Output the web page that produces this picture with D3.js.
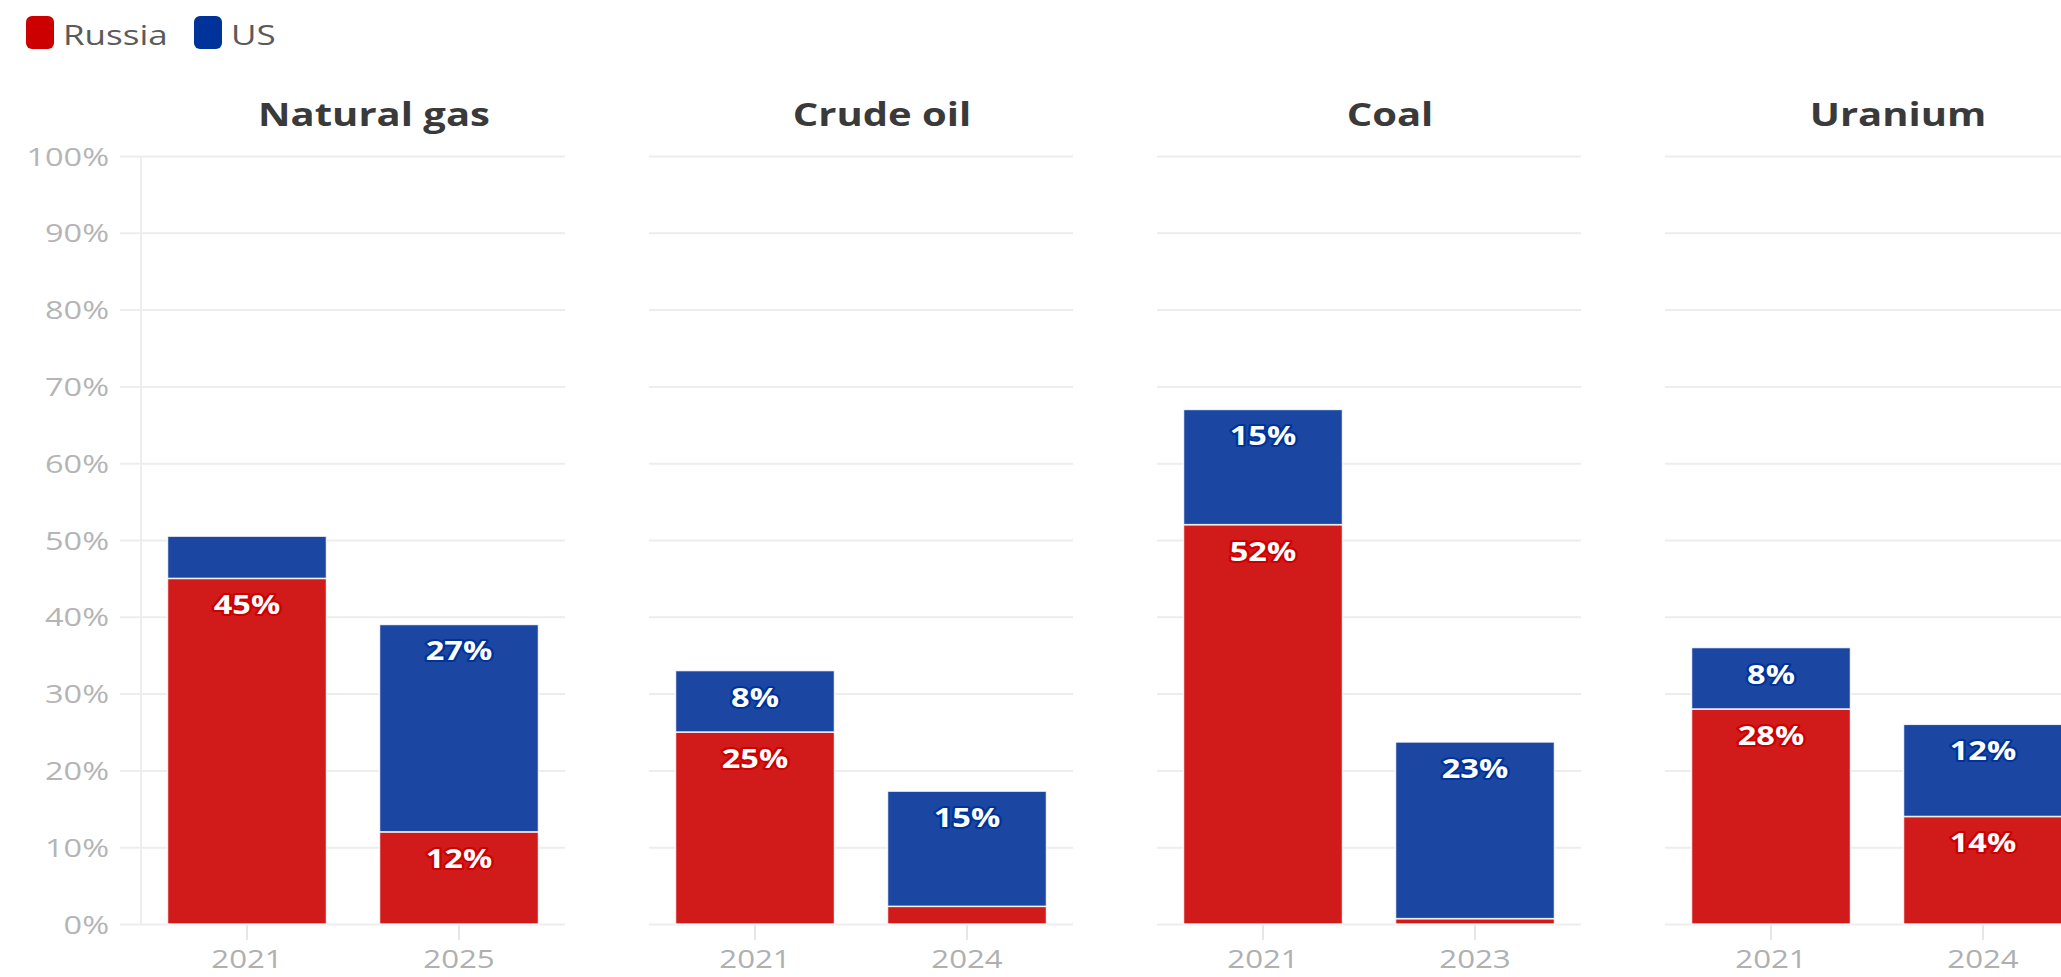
<!DOCTYPE html>
<html>
<head>
<meta charset="utf-8">
<script src="https://cdn.jsdelivr.net/npm/d3@7"></script>
<style>
  html, body { margin: 0; padding: 0; background: #fff; }
  svg { display: block; }
  text { font-family: "Open Sans", "Noto Sans", sans-serif; }
</style>
</head>
<body>
<svg id="chart" width="2061" height="977"></svg>
<script>
// Share of EU imports from Russia and the US, by commodity
const commodities = ["Natural gas", "Crude oil", "Coal", "Uranium"];
const periods = [["2021", "2025"], ["2021", "2024"], ["2021", "2023"], ["2021", "2024"]];
const russiaShare = [[45, 12], [25, 2.3], [52, 0.7], [28, 14]];
const usShare = [[5.5, 27], [8, 15], [15, 23], [8, 12]];
const seriesNames = ["Russia", "US"];
const yTicks = [0, 10, 20, 30, 40, 50, 60, 70, 80, 90, 100];

const legendColors = { Russia: "#cc0000", US: "#003399" };
const barColors = { Russia: "#d11a1a", US: "#1b47a2" };

const W = 2061, H = 977;
const plotTop = 156, plotBottom = 924;
const plotW = 424, panelStep = 508, firstPanelX = 141;
const STRETCH = 1.25;           // horizontal stretch of glyphs
const gridColor = "#ededed";

const svg = d3.select("#chart");

// helper: text drawn with a horizontal glyph stretch
function stretchText(sel, x, y) {
  return sel.attr("x", 0).attr("y", 0)
    .attr("transform", `translate(${x},${y}) scale(${STRETCH},1)`);
}

const y = d3.scaleLinear().domain([0, 100]).range([plotBottom, plotTop]);
const panelScale = d3.scaleBand()
  .domain(commodities)
  .range([firstPanelX, firstPanelX + panelStep * commodities.length]);

// legend
const legend = svg.append("g");
const legendX = [26, 194];
seriesNames.forEach((name, i) => {
  legend.append("rect")
    .attr("x", legendX[i]).attr("y", 16)
    .attr("width", 28).attr("height", 33).attr("rx", 6)
    .attr("fill", legendColors[name]);
  stretchText(legend.append("text"), legendX[i] + 37, 45)
    .attr("font-size", 28).attr("fill", "#5a5a5a")
    .text(name);
});

commodities.forEach((commodity, ci) => {
  const g = svg.append("g")
    .attr("transform", `translate(${panelScale(commodity)},0)`);

  const x = d3.scaleBand()
    .domain(periods[ci])
    .range([0, plotW])
    .paddingInner(0.25)
    .paddingOuter(0.125);

  // title
  stretchText(g.append("text"), plotW / 2 + 21, 126)
    .attr("text-anchor", "middle")
    .attr("font-size", 32).attr("font-weight", 700)
    .attr("fill", "#3a3a3a")
    .text(commodity);

  // horizontal gridlines
  g.append("g")
    .call(d3.axisLeft(y).tickValues(yTicks).tickSize(-plotW).tickFormat(""))
    .call(s => s.select(".domain").remove())
    .call(s => s.selectAll(".tick line").attr("stroke", gridColor).attr("stroke-width", 2));

  if (ci === 0) {
    // y axis with labels and a short tick extension
    const ya = g.append("g")
      .call(d3.axisLeft(y).tickValues(yTicks).tickSize(21).tickPadding(11)
        .tickFormat(d => d + "%"));
    ya.select(".domain").remove();
    ya.selectAll(".tick line").attr("stroke", gridColor).attr("stroke-width", 2);
    ya.selectAll(".tick text").each(function () {
      stretchText(d3.select(this), -32, 0)
        .attr("dy", "0.35em")
        .attr("font-size", 26)
        .attr("fill", "#b5b5b5")
        .attr("text-anchor", "end");
    });
    g.append("line")
      .attr("x1", 0).attr("x2", 0)
      .attr("y1", plotTop).attr("y2", plotBottom)
      .attr("stroke", gridColor).attr("stroke-width", 2);
  }

  // x axis
  const xa = g.append("g")
    .attr("transform", `translate(0,${plotBottom})`)
    .call(d3.axisBottom(x).tickSize(16).tickPadding(8));
  xa.select(".domain").remove();
  xa.selectAll(".tick line").attr("stroke", "#e6e6e6").attr("stroke-width", 2);
  xa.selectAll(".tick text").each(function () {
    stretchText(d3.select(this), 0, 44)
      .attr("dy", null)
      .attr("font-size", 25)
      .attr("fill", "#b0b0b0")
      .attr("text-anchor", "middle");
  });

  // stacked bars
  const rows = periods[ci].map((p, i) => ({ period: p, Russia: russiaShare[ci][i], US: usShare[ci][i] }));
  const stacked = d3.stack().keys(seriesNames)(rows);

  stacked.forEach(layer => {
    const name = layer.key;
    const lg = g.append("g");
    lg.selectAll("rect")
      .data(layer)
      .join("rect")
      .attr("x", d => x(d.data.period))
      .attr("width", x.bandwidth())
      .attr("y", d => y(d[1]))
      .attr("height", d => y(d[0]) - y(d[1]))
      .attr("fill", barColors[name])
      .attr("stroke", "#fff")
      .attr("stroke-opacity", 0.85)
      .attr("stroke-width", 1.5);

    lg.selectAll("text")
      .data(layer.filter(d => d.data[name] >= 7))
      .join("text")
      .each(function (d) {
        stretchText(d3.select(this), x(d.data.period) + x.bandwidth() / 2, y(d[1]) + 36);
      })
      .attr("text-anchor", "middle")
      .attr("font-size", 26)
      .attr("font-weight", 700)
      .attr("fill", "#fff")
      .attr("stroke", legendColors[name])
      .attr("stroke-width", 4)
      .attr("stroke-linejoin", "round")
      .attr("paint-order", "stroke")
      .text(d => Math.round(d.data[name]) + "%");
  });
});
</script>
</body>
</html>
